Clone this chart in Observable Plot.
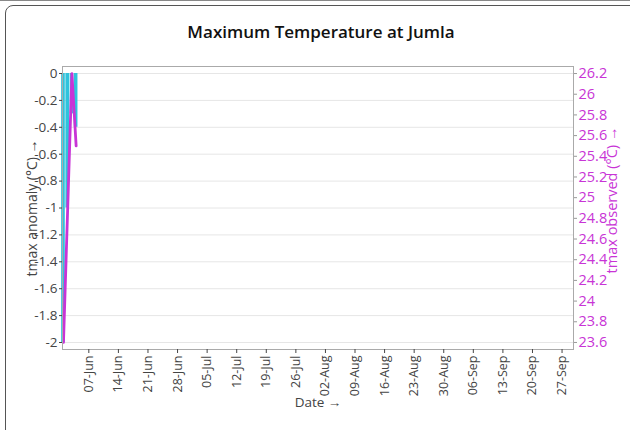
<!DOCTYPE html>
<html><head><meta charset="utf-8">
<script src="https://cdn.jsdelivr.net/npm/d3@7"></script>
<script src="https://cdn.jsdelivr.net/npm/@observablehq/plot@0.6"></script>
<style>
html,body{margin:0;padding:0;width:630px;height:430px;overflow:hidden;background:#fff;font-family:"Open Sans",sans-serif;}
#topline{position:absolute;left:0;top:0;width:630px;height:1px;background:#888;}
#card{position:absolute;left:5px;top:5px;width:700px;height:500px;border:1px solid #555;border-radius:8px;box-sizing:border-box;}
#title{position:absolute;left:0;top:22px;width:642px;text-align:center;font-size:17px;line-height:20px;font-weight:600;color:#111;}
#chart{position:absolute;left:0;top:50px;}
</style></head><body>
<div id="topline"></div><div id="card"></div>
<div id="title">Maximum Temperature at Jumla</div>
<div id="chart"></div>
<script>
const dates = ["2021-06-01", "2021-06-02", "2021-06-03", "2021-06-04"];
const anomaly = [-2.0, -1.0, -0.3, -0.4];
const observed = [23.6, 24.9, 26.2, 25.5];
const xTicks = ["2021-06-07","2021-06-14","2021-06-21","2021-06-28","2021-07-05","2021-07-12","2021-07-19","2021-07-26","2021-08-02","2021-08-09","2021-08-16","2021-08-23","2021-08-30","2021-09-06","2021-09-13","2021-09-20","2021-09-27"];
const leftTicks = [0, -0.2, -0.4, -0.6, -0.8, -1, -1.2, -1.4, -1.6, -1.8, -2];
const rightTicks = [23.6, 23.8, 24, 24.2, 24.4, 24.6, 24.8, 25, 25.2, 25.4, 25.6, 25.8, 26, 26.2];
const xDomain = ["2021-05-31T18:30:00Z", "2021-09-29T17:00:00Z"];
const leftDomain = [-2.052, 0.052];
const rightDomain = [23.532, 26.268];
const leftLabel = "tmax anomaly (°C) →";
const rightLabel = "tmax observed (°C) →";
const xLabel = "Date →";

const cyan = "#2fc3dc", magenta = "#c834d6";
const DAY = 864e5;
const data = dates.map((d, i) => ({date: new Date(d + "T00:00:00Z"), anomaly: anomaly[i], observed: observed[i]}));
const toLeft = d3.scaleLinear().domain(rightDomain).range(leftDomain);
const fmt = v => String(Math.round(v * 10) / 10);

const chart = Plot.plot({
  width: 630, height: 380,
  marginLeft: 62, marginRight: 57, marginTop: 16, marginBottom: 81,
  style: {fontFamily: "'Open Sans', sans-serif", fontSize: "13px", color: "#444", background: "transparent"},
  x: {type: "utc", domain: xDomain.map(d => new Date(d))},
  y: {domain: leftDomain},
  marks: [
    Plot.gridY(leftTicks, {stroke: "#e6e6e6", strokeOpacity: 1}),
    Plot.rectY(data, {x1: d => new Date(+d.date - DAY / 2), x2: d => new Date(+d.date + DAY / 2), y1: 0, y2: "anomaly", fill: cyan, insetLeft: 0.3, insetRight: 0.3}),
    Plot.lineY(data, {x: "date", y: d => toLeft(d.observed), stroke: magenta, strokeWidth: 2.8}),
    Plot.frame({stroke: "#aaa"}),
    Plot.axisY(leftTicks, {anchor: "left", tickFormat: fmt, tickSize: 3, tickPadding: 2, fontSize: 13.5, label: null}),
    Plot.text([leftLabel], {frameAnchor: "left", dx: -30, rotate: -90, textAnchor: "middle", fill: "#444", fontSize: 14}),
    Plot.axisY(rightTicks.map(v => toLeft(v)), {anchor: "right", tickFormat: v => fmt(toLeft.invert(v)), tickSize: 3, tickPadding: 2,
      fontSize: 14.5, color: magenta, stroke: "#999", label: null}),
    Plot.text([rightLabel], {frameAnchor: "right", dx: 39, dy: -8, rotate: -90, textAnchor: "middle", fill: magenta, fontSize: 14.5}),
    Plot.axisX(xTicks.map(d => new Date(d + "T00:00:00Z")), {anchor: "bottom", tickFormat: d3.utcFormat("%d-%b"), tickRotate: -90, tickSize: 4, tickPadding: 2, fontSize: 12.5, label: null}),
    Plot.text([xLabel], {frameAnchor: "bottom", dy: 57, textAnchor: "middle", fill: "#444", fontSize: 13.5})
  ]
});
document.getElementById("chart").appendChild(chart);
</script>
</body></html>
